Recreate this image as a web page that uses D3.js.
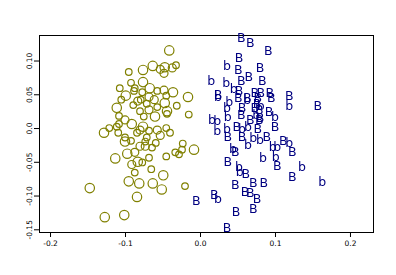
<!DOCTYPE html>
<html>
<head>
<meta charset="utf-8">
<script src="https://cdn.jsdelivr.net/npm/d3@7"></script>
<style>
  body { margin: 0; background: #fff; }
  svg { display: block; }
  .tick text { font-family: "DejaVu Sans", sans-serif; font-size: 7.5px; fill: #000; }
</style>
</head>
<body>
<div id="svg-container"></div>
<script>
////////////////////////////  Data  ////////////////////////////
// olive circles: x, y, size class (1 small .. 3 large)
const circX = [-0.041,-0.095,-0.076,-0.063,-0.053,-0.047,-0.048,-0.037,-0.032,-0.076,
  -0.092,-0.107,-0.087,-0.067,-0.077,-0.099,-0.088,-0.057,-0.048,-0.036,
  -0.016,-0.068,-0.079,-0.061,-0.045,-0.105,-0.083,-0.047,-0.031,-0.111,
  -0.089,-0.071,-0.057,-0.080,-0.068,-0.044,-0.044,-0.015,-0.060,-0.075,
  -0.108,-0.100,-0.111,-0.121,-0.128,-0.108,-0.091,-0.080,-0.076,-0.068,
  -0.057,-0.053,-0.045,-0.040,-0.084,-0.071,-0.100,-0.109,-0.100,-0.092,
  -0.080,-0.073,-0.059,-0.064,-0.073,-0.023,-0.033,-0.028,-0.024,-0.008,
  -0.045,-0.068,-0.097,-0.087,-0.113,-0.083,-0.091,-0.077,-0.087,-0.065,
  -0.049,-0.095,-0.081,-0.063,-0.051,-0.020,-0.147,-0.084,-0.127,-0.101];
const circY = [0.115,0.083,0.086,0.092,0.087,0.090,0.081,0.089,0.093,0.068,
  0.067,0.059,0.059,0.059,0.053,0.048,0.055,0.055,0.056,0.053,
  0.046,0.046,0.042,0.042,0.048,0.042,0.040,0.037,0.033,0.030,
  0.034,0.036,0.031,0.025,0.027,0.025,0.021,0.020,0.017,0.017,
  0.018,0.012,0.002,0.000,-0.007,0.006,0.006,-0.003,0.002,-0.004,
  -0.003,-0.011,0.000,-0.007,-0.007,-0.014,-0.014,-0.007,-0.020,-0.019,
  -0.027,-0.020,-0.022,-0.029,-0.027,-0.023,-0.036,-0.039,-0.032,-0.032,
  -0.042,-0.044,-0.038,-0.036,-0.045,-0.050,-0.054,-0.051,-0.066,-0.061,
  -0.070,-0.079,-0.082,-0.082,-0.091,-0.086,-0.089,-0.102,-0.132,-0.129];
const circSize = [3,1,3,3,2,3,2,2,1,3,
  1,1,1,3,1,3,1,1,2,3,
  3,2,1,2,1,1,2,3,1,3,
  1,1,1,1,2,3,1,1,3,1,
  1,2,1,1,3,1,3,2,3,1,
  2,2,1,1,1,1,1,1,3,1,
  2,1,1,1,2,1,1,1,1,3,
  1,1,3,2,3,3,2,1,1,1,
  3,3,3,3,3,1,3,3,3,3];

// blue letters: x, y, label
const letX = [0.055,0.067,0.091,0.052,0.036,0.051,0.080,0.015,0.035,0.055,
  0.065,0.083,0.045,0.024,0.052,0.073,0.081,0.093,0.119,0.157,
  0.119,0.039,0.063,0.077,0.095,0.024,0.051,0.063,0.036,0.056,
  0.073,0.092,0.100,0.100,0.016,0.023,0.037,0.055,0.067,0.079,
  0.023,0.036,0.049,0.064,0.077,0.056,0.037,0.056,0.071,0.089,
  0.111,0.097,0.103,0.123,0.044,0.047,0.064,0.080,0.119,0.084,
  0.101,0.103,0.037,0.052,0.053,0.061,0.136,0.123,0.163,0.047,
  0.071,0.085,0.060,0.067,0.019,0.024,-0.005,0.076,0.048,0.071,
  0.036,0.076,0.079,0.075,0.081,0.080];
const letY = [0.134,0.127,0.115,0.104,0.092,0.087,0.090,0.071,0.068,0.071,
  0.076,0.071,0.058,0.050,0.056,0.052,0.053,0.053,0.048,0.034,
  0.033,0.040,0.045,0.045,0.045,0.046,0.045,0.042,0.030,0.030,
  0.030,0.025,0.002,0.017,0.012,0.011,0.017,0.020,0.012,0.012,
  -0.003,0.000,0.002,0.002,0.000,0.000,-0.013,-0.013,-0.014,-0.013,
  -0.019,-0.027,-0.027,-0.035,-0.030,-0.035,-0.024,-0.017,-0.022,-0.044,
  -0.042,-0.055,-0.050,-0.057,-0.064,-0.067,-0.057,-0.072,-0.079,-0.083,
  -0.080,-0.080,-0.094,-0.096,-0.098,-0.104,-0.107,-0.105,-0.123,-0.119,
  -0.147,0.037,0.027,0.020,0.034,0.015];
const letLabel = ["B","B","B","B","b","B","B","b","b","B",
  "B","B","b","B","B","B","B","B","B","B",
  "b","b","B","B","B","b","B","b","b","B",
  "B","B","B","b","b","b","b","B","B","B",
  "b","b","B","b","B","b","B","B","b","B",
  "B","b","b","B","b","B","b","b","b","b",
  "b","B","B","b","b","B","b","B","b","B",
  "B","B","B","B","B","b","B","B","B","B",
  "B","B","B","b","b","B"];

const xTicks = [-0.2, -0.1, 0.0, 0.1, 0.2];
const xTickLabels = ["-0.2", "-0.1", "0.0", "0.1", "0.2"];
const yTicks = [0.10, 0.05, 0.0, -0.05, -0.10, -0.15];
const yTickLabels = ["0.10", "0.05", "0.0", "-0.05", "-0.10", "-0.15"];

////////////////////////////  Init  ////////////////////////////
const width = 396, height = 275;
const margin = { top: 35, right: 23, bottom: 43, left: 39 };

const svg = d3.select("#svg-container").append("svg")
  .attr("width", width).attr("height", height);

// plain pass-through filter, keeps the letter edges from colour fringing
svg.append("defs").append("filter")
  .attr("id", "flat")
  .append("feOffset").attr("dx", 0).attr("dy", 0);

const xScale = d3.scaleLinear()
  .domain([-0.2147, 0.2307])
  .range([margin.left, width - margin.right]);

const yScale = d3.scaleLinear()
  .domain([-0.154, 0.1378])
  .range([height - margin.bottom, margin.top]);

const rScale = d3.scaleLinear().domain([1, 3]).range([3.3, 4.7]);

// axes
const xAxis = d3.axisBottom(xScale)
  .tickValues(xTicks)
  .tickSizeOuter(0)
  .tickSize(5)
  .tickPadding(4)
  .tickFormat((d, i) => xTickLabels[i]);

const xg = svg.append("g")
  .attr("transform", `translate(0,${height - margin.bottom})`)
  .call(xAxis);
xg.select(".domain").remove();

const yAxis = d3.axisLeft(yScale)
  .tickValues(yTicks)
  .tickSizeOuter(0)
  .tickSize(5)
  .tickFormat((d, i) => yTickLabels[i]);

const yg = svg.append("g")
  .attr("transform", `translate(${margin.left},0)`)
  .call(yAxis);
yg.select(".domain").remove();
yg.selectAll(".tick text")
  .attr("x", null).attr("dy", null)
  .attr("text-anchor", "middle")
  .attr("transform", "translate(-7.5,0) rotate(-90)");

svg.selectAll(".tick line").attr("stroke", "#000");

// frame
svg.append("rect")
  .attr("x", margin.left + 0.5)
  .attr("y", margin.top + 0.5)
  .attr("width", width - margin.left - margin.right)
  .attr("height", height - margin.top - margin.bottom)
  .attr("fill", "none")
  .attr("stroke", "#000")
  .attr("stroke-width", 1);

// circles
const circles = circX.map((x, i) => ({ x: x, y: circY[i], s: circSize[i] }));
svg.append("g").selectAll("circle")
  .data(circles)
  .enter()
  .append("circle")
  .attr("cx", (d) => xScale(d.x))
  .attr("cy", (d) => yScale(d.y))
  .attr("r", (d) => rScale(d.s))
  .attr("fill", "none")
  .attr("stroke", "#808000")
  .attr("stroke-width", 1.2);

// letters
const letters = letX.map((x, i) => ({ x: x, y: letY[i], t: letLabel[i] }));
svg.append("g").attr("filter", "url(#flat)").selectAll("text")
  .data(letters)
  .enter()
  .append("text")
  .attr("x", (d) => xScale(d.x))
  .attr("y", (d) => yScale(d.y))
  .attr("dy", "0.36em")
  .attr("text-anchor", "middle")
  .attr("font-family", "DejaVu Sans, sans-serif")
  .attr("font-size", 12.5)
  .attr("fill", "#000080")
  .text((d) => d.t);
</script>
</body>
</html>
